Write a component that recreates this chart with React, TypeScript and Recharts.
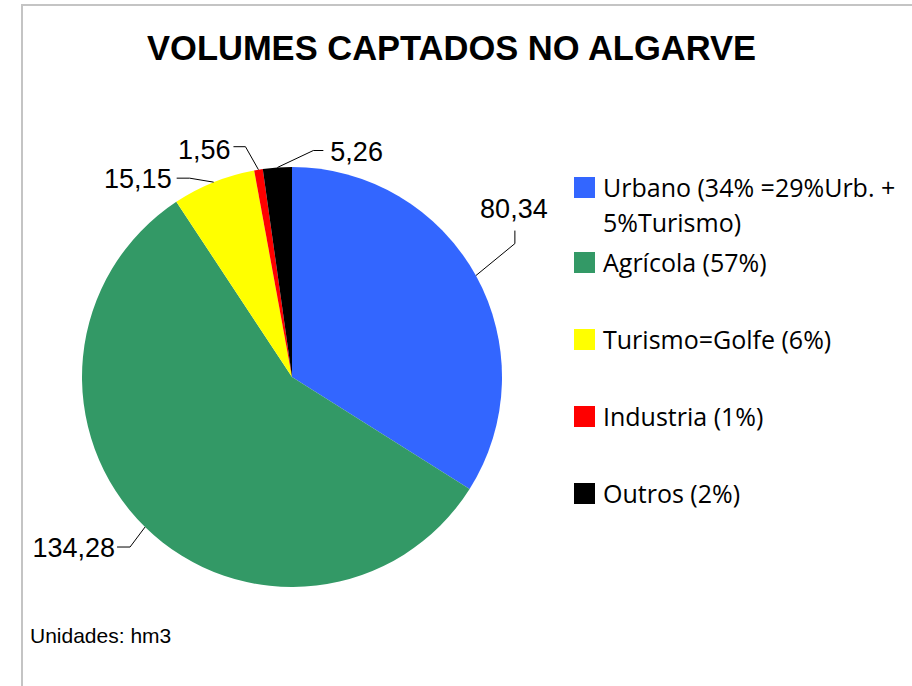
import React from "react";
import { PieChart, Pie, Cell, Legend } from "recharts";

const categories = [
  "Urbano (34% =29%Urb. + 5%Turismo)",
  "Agrícola (57%)",
  "Turismo=Golfe (6%)",
  "Industria (1%)",
  "Outros (2%)",
];
const volumes = [80.34, 134.28, 15.15, 1.56, 5.26];
const sliceColors = ["#3366FF", "#339966", "#FFFF00", "#FF0000", "#000000"];

// leader line: edge -> elbow -> end, then the text (offsets in px)
const labelLayout = [
  { elbow: [39, -32], end: [0, -13], text: [-1, -23], anchor: "middle" },
  { elbow: [-15, 20], end: [-13, 0], text: [-2, 0], anchor: "end" },
  { elbow: [-24, -4], end: [-13, 0], text: [-5, 0], anchor: "end" },
  { elbow: [-13, -23], end: [-12, 0], text: [-3, 2], anchor: "end" },
  { elbow: [36, -17], end: [10, 0], text: [7, 0], anchor: "start" },
];

const data = categories.map((name, i) => ({ name, value: volumes[i] }));

const RAD = Math.PI / 180;
const labelFont = "'Liberation Sans', Arial, sans-serif";

const renderLabel = (props: any) => {
  const { cx, cy, midAngle, outerRadius, index, value } = props;
  const l = labelLayout[index];
  const x0 = cx + outerRadius * Math.cos(-midAngle * RAD);
  const y0 = cy + outerRadius * Math.sin(-midAngle * RAD);
  const x1 = x0 + l.elbow[0];
  const y1 = y0 + l.elbow[1];
  const x2 = x1 + l.end[0];
  const y2 = y1 + l.end[1];
  return (
    <g>
      <polyline
        points={`${x0},${y0} ${x1},${y1} ${x2},${y2}`}
        fill="none"
        stroke="#000"
        strokeWidth={1}
      />
      <text
        x={x2 + l.text[0]}
        y={y2 + l.text[1] + 10}
        textAnchor={l.anchor as any}
        fontFamily={labelFont}
        fontSize={27}
        fill="#000"
      >
        {value.toFixed(2).replace(".", ",")}
      </text>
    </g>
  );
};

// keep the data order (recharts sorts legend items by name otherwise)
const renderLegend = () => (
  <div style={{ fontFamily: "'Open Sans', sans-serif", fontSize: 25, color: "#000" }}>
    {categories.map((name, i) => (
      <div
        key={name}
        style={{
          display: "flex",
          alignItems: "flex-start",
          marginBottom: i === 0 ? 5 : 42,
        }}
      >
        <div
          style={{
            width: 21,
            height: 21,
            marginTop: 7,
            marginRight: 8,
            background: sliceColors[i],
            flexShrink: 0,
          }}
        />
        <div style={{ lineHeight: "35px", width: 300 }}>{name}</div>
      </div>
    ))}
  </div>
);

export default function App() {
  return (
    <div
      style={{
        position: "absolute",
        left: 0,
        top: 0,
        width: 912,
        height: 686,
        background: "#fff",
        overflow: "hidden",
      }}
    >
      <div
        style={{
          position: "absolute",
          left: 21,
          top: 4,
          width: 1000,
          height: 800,
          border: "2px solid #c4c4c4",
        }}
      />
      <PieChart width={912} height={686} margin={{ top: 0, right: 0, bottom: 0, left: 0 }}>
        <Pie
          data={data}
          dataKey="value"
          nameKey="name"
          cx={292}
          cy={377}
          outerRadius={210}
          startAngle={90}
          endAngle={-270}
          stroke="none"
          label={renderLabel}
          labelLine={false}
          isAnimationActive={false}
        >
          {data.map((d, i) => (
            <Cell key={d.name} fill={sliceColors[i]} />
          ))}
        </Pie>
        <Legend
          content={renderLegend}
          wrapperStyle={{ left: 574, top: 170, width: 335 }}
        />
      </PieChart>
      <svg
        width={912}
        height={686}
        style={{ position: "absolute", left: 0, top: 0, pointerEvents: "none" }}
      >
        <text
          x={451.5}
          y={60}
          textAnchor="middle"
          fontFamily={labelFont}
          fontWeight="bold"
          fontSize={34.5}
          fill="#000"
        >
          VOLUMES CAPTADOS NO ALGARVE
        </text>
        <text x={30} y={643} fontFamily={labelFont} fontSize={21} fill="#000">
          Unidades: hm3
        </text>
      </svg>
    </div>
  );
}
